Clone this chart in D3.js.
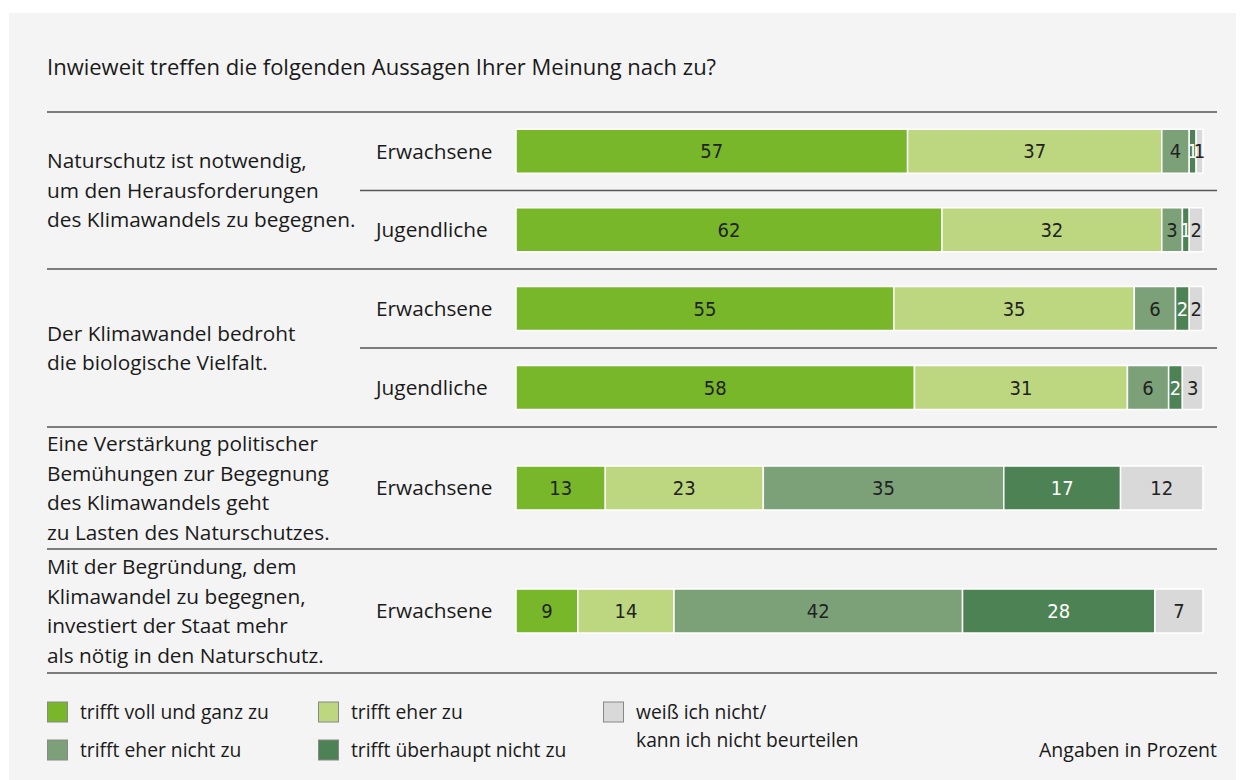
<!DOCTYPE html>
<html>
<head>
<meta charset="utf-8">
<script src="https://d3js.org/d3.v7.min.js"></script>
<style>
body { margin:0; background:#fff; }
</style>
</head>
<body>
<script>
// answer categories (legend order)
var categories = ["trifft voll und ganz zu", "trifft eher zu", "trifft eher nicht zu", "trifft überhaupt nicht zu", "weiß ich nicht/ kann ich nicht beurteilen"];
var keys = ["voll", "eher", "eherNicht", "garNicht", "weissNicht"];
var colors = ["#78b72a", "#bdd780", "#7ca179", "#4d8255", "#d9d9d9"];

var title = "Inwieweit treffen die folgenden Aussagen Ihrer Meinung nach zu?";
var statements = [
  ["Naturschutz ist notwendig,", "um den Herausforderungen", "des Klimawandels zu begegnen."],
  ["Der Klimawandel bedroht", "die biologische Vielfalt."],
  ["Eine Verstärkung politischer", "Bemühungen zur Begegnung", "des Klimawandels geht", "zu Lasten des Naturschutzes."],
  ["Mit der Begründung, dem", "Klimawandel zu begegnen,", "investiert der Staat mehr", "als nötig in den Naturschutz."]
];

// one entry per bar
var rowStatement = [0, 0, 1, 1, 2, 3];
var rowGroup = ["Erwachsene", "Jugendliche", "Erwachsene", "Jugendliche", "Erwachsene", "Erwachsene"];
var voll       = [57, 62, 55, 58, 13, 9];
var eher       = [37, 32, 35, 31, 23, 14];
var eherNicht  = [4, 3, 6, 6, 35, 42];
var garNicht   = [1, 1, 2, 2, 17, 28];
var weissNicht = [1, 2, 2, 3, 12, 7];

var width = 1243, height = 780;
var svg = d3.select("body").append("svg")
    .attr("width", width)
    .attr("height", height)
    .style("font-family", "'Open Sans', 'Noto Sans', sans-serif");

svg.append("rect")
    .attr("x", 9).attr("y", 13)
    .attr("width", 1227).attr("height", height - 13)
    .attr("fill", "#f4f4f4");

var left = 47, right = 1217;
var x = d3.scaleLinear().domain([0, 100]).range([516, 1203]);

svg.append("text")
    .attr("x", left).attr("y", 67)
    .attr("dy", "0.35em")
    .attr("font-size", 22)
    .attr("fill", "#1a1a1a")
    .text(title);

// sections: one per statement
var sectionTop = 112;
var sectionHeights = [157, 158, 122, 124];
var sections = sectionHeights.map(function(h, i) {
  var top = sectionTop + d3.sum(sectionHeights.slice(0, i));
  return {top: top, bottom: top + h, rows: d3.range(6).filter(function(r) { return rowStatement[r] === i; })};
});

var data = rowGroup.map(function(g, i) {
  return {group: g, statement: rowStatement[i], voll: voll[i], eher: eher[i], eherNicht: eherNicht[i], garNicht: garNicht[i], weissNicht: weissNicht[i]};
});

// y center per row
var rowY = [];
sections.forEach(function(s) {
  var band = d3.scaleBand().domain(s.rows).range([s.top, s.bottom]);
  s.rows.forEach(function(r) { rowY[r] = band(r) + band.bandwidth() / 2; });
  s.band = band;
});

// separator lines
svg.append("line")
    .attr("x1", left).attr("x2", right)
    .attr("y1", sectionTop).attr("y2", sectionTop)
    .attr("stroke", "#555").attr("stroke-width", 1.5);
sections.forEach(function(s) {
  svg.append("line")
      .attr("x1", left).attr("x2", right)
      .attr("y1", s.bottom).attr("y2", s.bottom)
      .attr("stroke", "#555").attr("stroke-width", 1.5);
  s.rows.slice(1).forEach(function(r) {
    svg.append("line")
        .attr("x1", 360).attr("x2", right)
        .attr("y1", s.band(r)).attr("y2", s.band(r))
        .attr("stroke", "#555").attr("stroke-width", 1.5);
  });
});

// statement labels
var lineH = 29.5;
sections.forEach(function(s, i) {
  var lines = statements[i];
  var cy = d3.mean(s.rows, function(r) { return rowY[r]; });
  var t = svg.append("text")
      .attr("x", left)
      .attr("font-size", 20.8)
      .attr("fill", "#1a1a1a");
  lines.forEach(function(l, j) {
    t.append("tspan")
        .attr("x", left)
        .attr("y", cy + (j - (lines.length - 1) / 2) * lineH)
        .attr("dy", "0.35em")
        .text(l);
  });
});

// group labels
svg.selectAll(".grp")
  .data(data)
  .enter().append("text")
    .attr("class", "grp")
    .attr("x", 376)
    .attr("y", function(d, i) { return rowY[i]; })
    .attr("dy", "0.35em")
    .attr("font-size", 20.8)
    .attr("fill", "#1a1a1a")
    .text(function(d) { return d.group; });

// stacked bars
var barH = 44;
var stack = d3.stack().keys(keys)(data);
var layer = svg.append("g")
  .selectAll("g")
  .data(stack)
  .enter().append("g")
    .attr("fill", function(d, i) { return colors[i]; });

layer.selectAll("rect")
  .data(function(d) { return d; })
  .enter().append("rect")
    .attr("x", function(d) { return x(d[0]); })
    .attr("y", function(d, i) { return rowY[i] - barH / 2; })
    .attr("width", function(d) { return x(d[1]) - x(d[0]); })
    .attr("height", barH)
    .attr("stroke", "#fff")
    .attr("stroke-width", 1.5);

layer.selectAll("text")
  .data(function(d) { return d.map(function(p) { return {p: p, key: d.key}; }); })
  .enter().append("text")
    .attr("x", function(d) { return (x(d.p[0]) + x(d.p[1])) / 2; })
    .attr("y", function(d, i) { return rowY[i]; })
    .attr("dy", "0.36em")
    .attr("text-anchor", "middle")
    .attr("font-family", "'Liberation Sans Narrow', 'DejaVu Sans Condensed', 'Open Sans', sans-serif")
    .attr("font-size", 20)
    .attr("fill", function(d) { return d.key === "garNicht" ? "#fff" : "#222"; })
    .text(function(d) { return d.p[1] - d.p[0]; });

// legend
var legendPos = [[47, 712], [318, 712], [47, 750], [318, 750], [603, 712]];
var legend = svg.append("g")
  .selectAll("g")
  .data(categories)
  .enter().append("g")
    .attr("transform", function(d, i) { return "translate(" + legendPos[i][0] + "," + legendPos[i][1] + ")"; });

legend.append("rect")
    .attr("x", 0.5).attr("y", -10)
    .attr("width", 20).attr("height", 20)
    .attr("fill", function(d, i) { return colors[i]; })
    .attr("stroke", "#888")
    .attr("stroke-width", 1);

legend.append("text")
    .attr("x", 33)
    .attr("font-size", 19.3)
    .attr("fill", "#1a1a1a")
    .each(function(d) {
      var parts = d.split("/ ");
      var t = d3.select(this);
      parts.forEach(function(p, j) {
        t.append("tspan")
            .attr("x", 33)
            .attr("y", j * 28)
            .attr("dy", "0.35em")
            .text(j < parts.length - 1 ? p + "/" : p);
      });
    });

svg.append("text")
    .attr("x", right).attr("y", 750)
    .attr("dy", "0.35em")
    .attr("text-anchor", "end")
    .attr("font-size", 19.5)
    .attr("fill", "#1a1a1a")
    .text("Angaben in Prozent");
</script>
</body>
</html>
